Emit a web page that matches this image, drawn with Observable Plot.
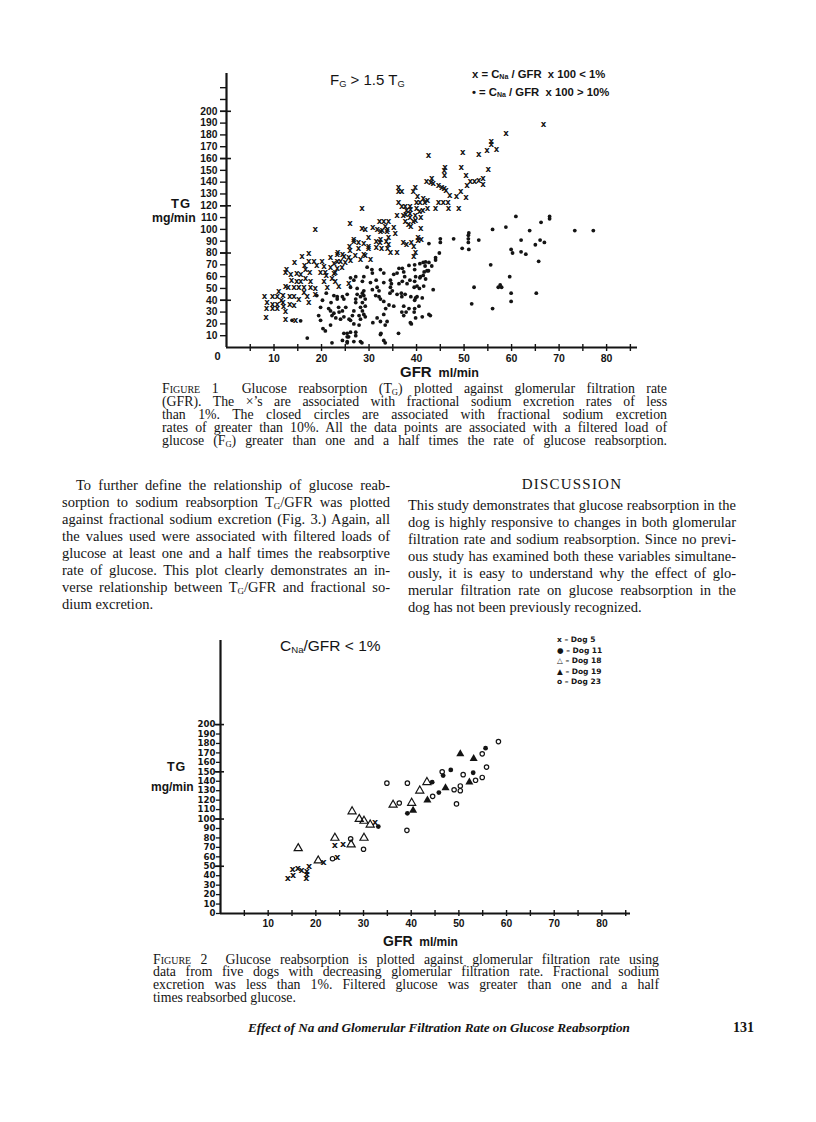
<!DOCTYPE html>
<html>
<head>
<meta charset="utf-8">
<script src="https://cdn.jsdelivr.net/npm/d3@7"></script>
<script src="https://cdn.jsdelivr.net/npm/@observablehq/plot@0.6"></script>
<style>
html,body{margin:0;padding:0;background:#fff;}
#page{position:relative;width:816px;height:1122px;overflow:hidden;background:#fff;color:#141414;}
.abs{position:absolute;white-space:nowrap;line-height:1;}
.sans{font-family:"Liberation Sans",Arial,sans-serif;font-weight:bold;}
.dj{font-family:"DejaVu Sans",sans-serif;font-weight:bold;}
.serif{font-family:"Liberation Serif","Times New Roman",serif;}
.ln{position:absolute;text-align:justify;text-align-last:justify;white-space:normal;overflow:visible;}
.ln.last{text-align-last:left;}
sub{font-size:0.62em;vertical-align:-0.18em;line-height:0;}
.sc{font-variant:small-caps;}
.plot{position:absolute;}
</style>
</head>
<body>
<div id="page"></div>
<script>
// ---------------- DATA ----------------
// Figure 1: [GFR ml/min, TG mg/min]
const fig1Crosses = [
[8,43],[8.5,38],[8.4,33],[8.3,26],[9.7,43],[9.7,37],[9.7,33],[10.7,43],[10.7,37],[10.7,33],[11,48],[11.9,44],[11.9,38],
[12.4,52],[12.4,64],[12.6,66],[12.4,31],[12.4,24],[13,51],[13.3,43],[13.3,37],[13.5,62],[14.2,51],[14.2,43],[14.2,36],
[14.3,72],[14.8,63],[14.8,56],[14.5,23],[15.2,51],[15.2,41],[15.6,62],[15.6,56],[15.9,77],[16.3,51],[16.3,47],[16.4,70],
[16.6,66],[16.6,59],[17,43],[17.3,38],[17.3,80],[17.3,73],[17.5,64],[17.7,56],[17.7,51],[18.4,73],[18.7,100],[18.7,50],
[18.7,45],[19,70],[19.8,64],[13.7,57],[11.5,40],[12,35],
[20.1,73],[20.5,69],[20.5,56],[20.8,64],[21,61],[21.2,51],[21.9,76],[21.9,68],[22.2,59],[22.9,64],[22.9,56],[23.3,79],
[23.3,73],[23.6,52],[24,73],[24.3,68],[24.7,77],[25,72],[25.7,54],[25.9,86],[26,82],[26.1,74],[26,105],[26.8,90],[27.8,89],
[27.8,84],[28.2,75],[28.5,118],[28.9,79],[29.2,100],[28.5,101],[29.9,93],[29.9,84],[30.3,75],[30.8,102],[31.7,100],[32.4,92],
[32.3,89],[32.4,98],[32.2,107],[33.1,107],[33.4,103],[33.8,98],[34.1,107],[34.1,93],[34.1,87],[34.5,81],[35.2,102],[35.5,97],
[35.9,81],[35.9,112],[26.8,92],[28.9,88],[29.9,86],[31.5,85],[32.6,84],[33.9,84],[29.2,78],[27.1,78],[25.7,76],[24.4,79],
[23.4,81],[22.6,71],[23.3,67],[22.6,63],[31.5,90],[33.6,90],[32.8,99],[33.9,100],
[36.2,136],[36.2,132],[36.2,123],[36.9,132],[36.9,120],[37.2,112],[37.6,120],[37.9,116],[38.6,120],[37.6,107],[38.3,104],
[38.6,110],[39.3,107],[37.2,89],[37.9,87],[38.9,89],[39.7,136],[39.3,132],[39.7,112],[40,118],[40,123],[40.7,123],[41.7,123],
[40.3,91],[42.1,141],[38.7,117],[40.6,115],[41.3,116],[42.3,118],[37.7,113],[40.9,110],[38.8,103],[40.9,101],[41,92],
[39.8,108],[39.4,86],[39.8,81],[39.4,77],[40.3,93],[40.2,128],[38.6,114],[42.3,125],[41.4,126],
[66.7,189],[58.8,181],[55.7,175],[55.7,172],[54.8,167],[56.8,168],[53.1,164],[49.7,165],[42.5,163],[55.1,151],[49.4,153],
[46,153],[45.8,150],[45.9,146],[43.2,143],[43,140],[43.5,139],[50.4,146],[51.3,141],[52.2,141],[53.1,142],[54,143],[54,138],
[50.6,137],[44.6,137],[45.3,136],[45.8,135],[46.2,133],[49.3,132],[47,129],[48.4,128],[50.4,127],[44.6,123],[45.6,123],
[46.6,123],[44,118],[46.7,118],[48.9,118]
];
const fig1Dots = [
[60.9,111],[68,111],[68,109],[56,100],[58.8,102],[63.8,99],[66.2,106],[73.3,99],[77.2,99],[51,97],[50.9,95],[50.9,92],
[50.9,89],[47.8,92],[45,92],[45,89],[42.6,88],[53.1,91],[62,91],[66,91],[66.9,89],[49.6,84],[51,83],[59.9,83],[60.2,80],
[62,81],[63,79],[65,87],[65.7,73],[44.8,80],[44,76],[44,74],[55.6,70],[42.6,72],[41.4,72],[59.6,60],[52.1,51],[57.2,51],
[57.6,53],[57.9,51],[43.5,49],[59.9,46],[65.2,46],[59.9,39],[51.6,37],[56,33],[39.6,40],[39.6,33],[42.9,27],[38.9,20],
[37.8,30],[36.8,46],[43.2,69],[41.8,69],[41.6,64],[41.4,61],[40.7,59],[39.6,66],[39.6,56],[38.6,57],[37.5,60],
[38.4,69.5],[39.6,70],[40.7,71],[41.9,72.5],[36.3,67],[37,67],[37.3,64],[39.8,60],[40.8,60],[41.9,58],[42.2,65],[30.7,63],
[28.9,60],[27.2,60],[28.6,56],[30.3,55],[31.5,57],[33.1,55],[34.7,54],[36.3,54],[37,56],[38,54],[39.5,51],[40.6,50],
[41.5,52],[38.8,43],[39.8,42],[41.2,42],[34.5,51],[34.9,48],[34.4,46],[35.9,45],[36.9,43],[37.6,45],[30.7,49],[31.7,51],
[32.1,48],[31.4,44],[32.1,43],[28.9,48],[28.6,46],[28.9,44],[28.2,43],[29.2,41],[28.6,38],[29.2,35],[28.2,34],[28.6,31],
[28.9,28],[29.2,26],[28.2,24],[27.9,27],[27.2,41],[27.2,38],[26.8,31],[26.5,27],[26.1,23],[25.8,24],[25.4,45],[24.4,43],
[23.3,41],[22.6,44],[25.1,34],[24.4,31],[23.7,30],[22.6,29],[21.9,31],[24.7,26],[24,24],[23,25],[22.2,27],[26.8,20],
[27.9,19],[27.2,13],[26.1,13],[25.4,12],[24.7,12],[32.4,41],[33.1,39],[34.2,36],[35.2,35],[36.9,30],[38.4,33],[39.5,30],
[40.5,35],[33.8,22],[33.4,19],[38.7,21],[39.8,25],[41.2,26],[24.4,6],[25.4,5],[28.2,5],[25.4,9],[27.2,10],[33.1,6],
[32.4,11],[42.6,28],[30.8,21],[32.4,22],[31.7,25],[33.1,28],[33.5,33],
[13.8,23],[15.6,22.6],[17,8],[19.8,34],[19.4,27],[19.8,23],[20.3,16],[20.8,14],[21.5,33],[21.9,19],[22.2,4],[23.3,43],
[23.6,34],[25.4,4],[25.7,9],[26.8,5],[28.5,4],[33.4,4],[36.2,12],[37.3,27],[37.3,35],[40.1,43],[40.1,52],[35.9,63],
[34.5,57],[35.2,62],[32.4,66],[33.1,63],[29.6,68],[30.6,66],[26.1,59],[26.8,57],[26.1,51],[27.5,50],[27.5,45],[24.7,41],
[42.5,65],[32.5,12],[21,46],[20.2,40],[19,44],[22,38]
];
const fig1YTicks = [10,20,30,40,50,60,70,80,90,100,110,120,130,140,150,160,170,180,190,200,210,220];
const fig1YLabels = [10,20,30,40,50,60,70,80,90,100,110,120,130,140,150,160,170,180,190,200];
const fig1YMajor = [40,80,120,160,200];
const fig1XTicks = [5,10,15,20,25,30,35,40,45,50,55,60,65,70,75,80,85];
const fig1XLabels = [10,20,30,40,50,60,70,80];
const fig1Origin = [0];

// Figure 2: per dog [GFR, TG]
const dog5 = [[14.1,38],[15.2,41],[15.1,47],[16.2,48],[17,46],[18.1,42],[18.1,45],[18.6,50],[18,38],[21.6,55],[24,73],[25.7,74],[24.5,60],[32.4,97]];
const dog11 = [[33.1,92],[39.2,106],[44.4,139],[45.8,128],[46.7,146],[48.3,152],[53,149],[55.6,175]];
const dog18 = [[16.3,69],[20.5,56],[24,80],[27.6,108],[27.4,73],[29.1,100],[30.1,98],[31.4,94],[30.1,80],[36.2,115],[40.1,117],[41.8,130],[43.3,139]];
const dog19 = [[40.4,109],[43.4,120],[47.2,133],[52.2,139],[50.3,169],[53.1,164]];
const dog23 = [[34.9,138],[37.5,117],[39.2,138],[39.1,88],[30,68],[27.3,79],[23.5,58],[44.5,124],[46.5,150],[49,131],[49.5,116],[50.3,135],[50.3,130],[50.9,147],[53.5,141],[54.9,144],[55.8,155],[58.3,182],[54.9,169]];
const fig2YTicks = [0,10,20,30,40,50,60,70,80,90,100,110,120,130,140,150,160,170,180,190,200];
const fig2YMajor = [50,100,150,200];
const fig2XTicks = [5,10,15,20,25,30,35,40,45,50,55,60,65,70,75,80,85];
const fig2XLabels = [10,20,30,40,50,60,70,80];

// ---------------- HELPERS ----------------
const page = document.getElementById("page");
function place(html, left, cy, cls, size, extra) {
  const d = document.createElement("div");
  d.className = "abs " + cls;
  d.style.left = left + "px";
  d.style.top = (cy - size / 2) + "px";
  d.style.fontSize = size + "px";
  d.style.height = size + "px";
  if (extra) Object.assign(d.style, extra);
  d.innerHTML = html;
  page.appendChild(d);
  return d;
}
function lines(arr, left, width, cy0, step, size, cls, lastIdx) {
  arr.forEach((t, i) => {
    const d = document.createElement("div");
    d.className = "ln " + cls + (lastIdx.includes(i) ? " last" : "");
    d.style.left = left + "px";
    d.style.width = width + "px";
    d.style.fontSize = size + "px";
    d.style.lineHeight = step + "px";
    d.style.top = (cy0 + i * step - step / 2) + "px";
    d.innerHTML = t;
    page.appendChild(d);
    let s = size;
    while (d.getBoundingClientRect().height > step * 1.5 && s > 8) {
      s -= 0.1;
      d.style.fontSize = s + "px";
    }
  });
}
const rows = a => a.map(([g, t]) => ({gfr: g, tg: t}));
const axStyle = {fontFamily: "'Liberation Sans', Arial, sans-serif", fontWeight: "bold", color: "#141414", background: "transparent", overflow: "visible"};

// ---------------- FIGURE 1 ----------------
const p1 = Plot.plot({
  width: 530, height: 335,
  marginLeft: 106, marginRight: 13, marginTop: 13, marginBottom: 48,
  x: {domain: [0, 86.5], label: null},
  y: {domain: [0, 232], label: null},
  style: axStyle,
  marks: [
    Plot.axisY(fig1YTicks, {tickSize: 6, tickPadding: 3, fontSize: 10.3, strokeWidth: 1.4, label: null,
      tickFormat: d => fig1YLabels.includes(d) ? String(d) : ""}),
    Plot.axisY(fig1YMajor, {tickSize: 11, dx: 5, strokeWidth: 1.6, label: null, tickFormat: () => ""}),
    Plot.axisX(fig1XTicks, {tickSize: 7, dy: -3, strokeWidth: 1.4, label: null, tickFormat: () => ""}),
    Plot.axisX(fig1XLabels, {tickSize: 0, tickPadding: 7, fontSize: 10.5, label: null}),
    Plot.ruleX([0], {strokeWidth: 2.2}),
    Plot.ruleY([0], {strokeWidth: 2.2}),
    Plot.text(fig1Origin, {x: d => d, y: d => d, text: d => String(d), dx: -9, dy: 9, fontSize: 11}),
    Plot.text(rows(fig1Crosses), {x: "gfr", y: "tg", text: () => "x", fontSize: 8.5, fontWeight: "bold",
      fontFamily: "'DejaVu Sans', sans-serif"}),
    Plot.dot(rows(fig1Dots), {x: "gfr", y: "tg", r: 1.9, fill: "#141414", stroke: null})
  ]
});
const w1 = document.createElement("div");
w1.className = "plot"; w1.style.left = "120px"; w1.style.top = "60px";
w1.appendChild(p1); page.appendChild(w1);

place("F<sub>G</sub> &gt; 1.5 T<sub>G</sub>", 330, 79, "sans", 15, {fontWeight: "normal"});
place("x = C<sub>Na</sub> / GFR &nbsp;x 100 &lt; 1%", 472, 75, "sans", 11.3);
place("• = C<sub>Na</sub> / GFR &nbsp;x 100 &gt; 10%", 472, 93, "sans", 11.3);
place("TG", 171, 203, "sans", 13, {letterSpacing: "1px"});
place("mg/min", 152, 218, "sans", 12.3);
place("GFR<span style='font-size:12.5px'>&nbsp; ml/min</span>", 400, 371, "sans", 15);

lines([
  "<span class='sc'>Figure</span> 1&nbsp; Glucose reabsorption (T<sub>G</sub>) plotted against glomerular filtration rate",
  "(GFR). The ×’s are associated with fractional sodium excretion rates of less",
  "than 1%. The closed circles are associated with fractional sodium excretion",
  "rates of greater than 10%. All the data points are associated with a filtered load of",
  "glucose (F<sub>G</sub>) greater than one and a half times the rate of glucose reabsorption."
], 162, 505, 388, 13, 13.8, "serif", []);

// ---------------- BODY TEXT ----------------
lines([
  "<span style='display:inline-block;width:14px'></span>To further define the relationship of glucose reab-",
  "sorption to sodium reabsorption T<sub>G</sub>/GFR was plotted",
  "against fractional sodium excretion (Fig. 3.) Again, all",
  "the values used were associated with filtered loads of",
  "glucose at least one and a half times the reabsorptive",
  "rate of glucose. This plot clearly demonstrates an in-",
  "verse relationship between T<sub>G</sub>/GFR and fractional so-",
  "dium excretion."
], 62, 328, 485, 17, 14.5, "serif", [7]);
place("DISCUSSION", 408, 484, "serif", 15, {width: "328px", textAlign: "center", letterSpacing: "1.2px"});
lines([
  "This study demonstrates that glucose reabsorption in the",
  "dog is highly responsive to changes in both glomerular",
  "filtration rate and sodium reabsorption. Since no previ-",
  "ous study has examined both these variables simultane-",
  "ously, it is easy to understand why the effect of glo-",
  "merular filtration rate on glucose reabsorption in the",
  "dog has not been previously recognized."
], 408, 328, 505, 17, 14.5, "serif", [6]);

// ---------------- FIGURE 2 ----------------
const p2 = Plot.plot({
  width: 520, height: 320,
  marginLeft: 100, marginRight: 10, marginTop: 10, marginBottom: 37,
  x: {domain: [0, 86], label: null},
  y: {domain: [0, 289], label: null},
  style: axStyle,
  marks: [
    Plot.axisY(fig2YTicks, {tickSize: 4, tickPadding: 1, fontSize: 8.6, strokeWidth: 1.3, label: null,
      fontFamily: "'DejaVu Sans', sans-serif"}),
    Plot.axisY(fig2YMajor, {tickSize: 9, dx: 4, strokeWidth: 1.6, label: null, tickFormat: () => ""}),
    Plot.axisX(fig2XTicks, {tickSize: 6, dy: -3, strokeWidth: 1.4, label: null, tickFormat: () => ""}),
    Plot.axisX(fig2XLabels, {tickSize: 0, tickPadding: 6, fontSize: 10.3, label: null}),
    Plot.ruleX([0], {strokeWidth: 2.2}),
    Plot.ruleY([0], {strokeWidth: 2.2}),
    Plot.text(rows(dog5), {x: "gfr", y: "tg", text: () => "x", fontSize: 9.5, fontWeight: "bold",
      fontFamily: "'DejaVu Sans', sans-serif"}),
    Plot.dot(rows(dog11), {x: "gfr", y: "tg", r: 2.4, fill: "#141414", stroke: null}),
    Plot.dot(rows(dog18), {x: "gfr", y: "tg", symbol: "triangle", r: 3, fill: "none", stroke: "#141414", strokeWidth: 1.2}),
    Plot.dot(rows(dog19), {x: "gfr", y: "tg", symbol: "triangle", r: 3, fill: "#141414", stroke: null}),
    Plot.dot(rows(dog23), {x: "gfr", y: "tg", r: 2.2, fill: "none", stroke: "#141414", strokeWidth: 1.2})
  ]
});
const w2 = document.createElement("div");
w2.className = "plot"; w2.style.left = "120px"; w2.style.top = "630px";
w2.appendChild(p2); page.appendChild(w2);

place("C<sub>Na</sub>/GFR &lt; 1%", 280, 646, "sans", 15.5, {fontWeight: "normal"});
const leg2 = [["x", "Dog 5"], ["●", "Dog 11"], ["△", "Dog 18"], ["▲", "Dog 19"], ["o", "Dog 23"]];
leg2.forEach(([s, t], i) => place(s + " – " + t, 557, 640 + i * 10.5, "dj", 7.5));
place("TG", 167, 767, "sans", 12.5, {letterSpacing: "0.8px"});
place("mg/min", 151, 787, "sans", 12);
place("GFR<span style='font-size:12px'>&nbsp; ml/min</span>", 383, 941, "sans", 14);

lines([
  "<span class='sc'>Figure</span> 2&nbsp; Glucose reabsorption is plotted against glomerular filtration rate using",
  "data from five dogs with decreasing glomerular filtration rate. Fractional sodium",
  "excretion was less than 1%. Filtered glucose was greater than one and a half",
  "times reabsorbed glucose."
], 153, 506, 960, 12.9, 13.8, "serif", [3]);

// ---------------- FOOTER ----------------
place("Effect of Na and Glomerular Filtration Rate on Glucose Reabsorption", 248, 1028, "serif", 13.2, {fontStyle: "italic", fontWeight: "bold"});
place("131", 733, 1028, "serif", 14, {fontWeight: "bold"});
</script>
</body>
</html>
